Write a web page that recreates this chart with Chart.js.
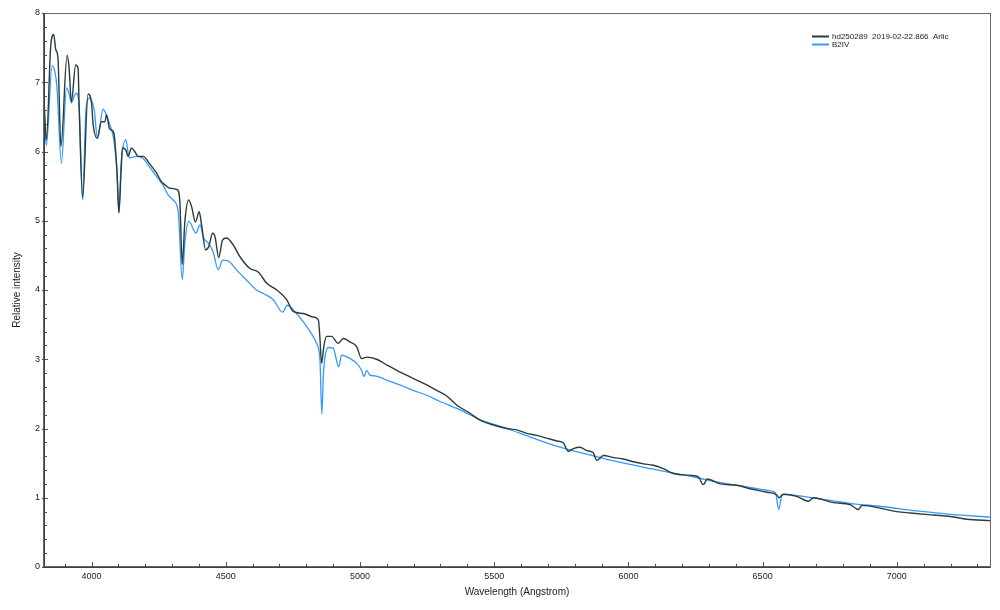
<!DOCTYPE html>
<html>
<head>
<meta charset="utf-8">
<title>hd250289 spectrum</title>
<script src="https://cdn.jsdelivr.net/npm/chart.js@4.4.1/dist/chart.umd.min.js"></script>
<style>
  html, body { margin: 0; padding: 0; background: #fff; }
</style>
</head>
<body>
<canvas id="chart" width="1000" height="610"></canvas>
<script>
/**
 * Series labels.
 */
const seriesLabels = ['hd250289  2019-02-22.866  Arlic', 'B2IV'];

/**
 * Observed spectrum (wavelength in Angstrom / relative intensity).
 */
const obsWave = [
  3823, 3832, 3848, 3859, 3867, 3875, 3886, 3909, 3916, 3925, 3941, 3950, 3954, 3967, 3987,
  4000, 4006, 4021, 4037, 4050, 4056, 4066, 4074, 4083, 4095, 4102, 4110, 4115, 4128, 4136,
  4149, 4161, 4174, 4192, 4217, 4242, 4261, 4267, 4292, 4319, 4329, 4338, 4348, 4362, 4373,
  4387, 4401, 4410, 4425, 4437, 4451, 4460, 4474, 4488, 4503, 4528, 4553, 4590, 4621, 4652,
  4690, 4727, 4751, 4789, 4826, 4845, 4851, 4857, 4866, 4876, 4894, 4919, 4938, 4963, 4988,
  5006, 5025, 5062, 5099, 5137, 5174, 5211, 5249, 5286, 5323, 5360, 5410, 5447, 5497, 5547,
  5584, 5621, 5658, 5696, 5733, 5758, 5776, 5795, 5820, 5845, 5869, 5882, 5907, 5944, 5981,
  6018, 6056, 6093, 6130, 6168, 6205, 6242, 6261, 6279, 6294, 6342, 6404, 6454, 6516, 6553,
  6560, 6578, 6627, 6671, 6689, 6764, 6826, 6857, 6870, 6950, 7000, 7050, 7137, 7199, 7261,
  7348,
];
const obsFlux = [
  6.75, 6.17, 7.52, 7.69, 7.47, 7.35, 6.07, 7.39, 7.23, 6.72, 7.25, 7.20, 6.63, 5.33, 6.83,
  6.70, 6.39, 6.19, 6.43, 6.43, 6.53, 6.34, 6.31, 6.27, 5.70, 5.11, 5.70, 6.05, 6.02, 5.93,
  6.05, 6.00, 5.93, 5.93, 5.82, 5.69, 5.56, 5.54, 5.47, 5.45, 5.28, 4.37, 5.00, 5.30, 5.20,
  4.98, 5.13, 4.94, 4.58, 4.63, 4.82, 4.77, 4.47, 4.72, 4.75, 4.65, 4.48, 4.31, 4.26, 4.10,
  4.00, 3.86, 3.69, 3.66, 3.61, 3.57, 3.30, 2.94, 3.20, 3.33, 3.33, 3.23, 3.30, 3.25, 3.18,
  3.01, 3.03, 3.00, 2.92, 2.84, 2.77, 2.70, 2.63, 2.55, 2.47, 2.34, 2.22, 2.12, 2.05, 2.00,
  1.98, 1.93, 1.90, 1.86, 1.82, 1.79, 1.67, 1.71, 1.73, 1.68, 1.65, 1.54, 1.61, 1.58, 1.56,
  1.52, 1.49, 1.47, 1.42, 1.35, 1.33, 1.32, 1.30, 1.19, 1.27, 1.20, 1.18, 1.13, 1.08, 1.04,
  1.00, 1.05, 1.02, 0.95, 1.00, 0.93, 0.90, 0.83, 0.89, 0.84, 0.80, 0.78, 0.75, 0.73, 0.69,
  0.67,
];

/**
 * Reference B2IV spectrum.
 */
const refWave = [
  3823, 3832, 3853, 3863, 3871, 3888, 3907, 3916, 3925, 3938, 3944, 3954, 3967, 3979, 3991,
  4010, 4022, 4043, 4056, 4068, 4083, 4095, 4102, 4110, 4128, 4140, 4168, 4192, 4217, 4242,
  4267, 4286, 4304, 4323, 4338, 4348, 4363, 4389, 4404, 4418, 4434, 4453, 4472, 4488, 4509,
  4540, 4578, 4615, 4640, 4677, 4712, 4729, 4764, 4783, 4814, 4838, 4851, 4858, 4864, 4870,
  4882, 4900, 4921, 4932, 4963, 4988, 5006, 5015, 5025, 5037, 5056, 5099, 5149, 5199, 5249,
  5298, 5348, 5373, 5447, 5547, 5646, 5745, 5845, 5957, 6081, 6205, 6329, 6453, 6528, 6548,
  6560, 6572, 6578, 6702, 6826, 6950, 7075, 7199, 7348,
];
const refFlux = [
  6.45, 6.09, 7.24, 7.16, 6.94, 5.83, 6.92, 6.84, 6.70, 6.82, 6.84, 6.65, 5.30, 6.58, 6.77,
  6.60, 6.19, 6.61, 6.52, 6.39, 6.17, 5.70, 5.13, 5.80, 6.17, 5.91, 5.93, 5.90, 5.77, 5.64,
  5.51, 5.37, 5.30, 5.13, 4.15, 4.70, 4.99, 4.82, 4.94, 4.75, 4.68, 4.55, 4.29, 4.43, 4.42,
  4.29, 4.14, 4.00, 3.95, 3.86, 3.68, 3.78, 3.66, 3.57, 3.40, 3.23, 2.99, 2.21, 2.80, 3.04,
  3.17, 3.16, 2.89, 3.06, 3.01, 2.94, 2.84, 2.75, 2.84, 2.77, 2.76, 2.70, 2.63, 2.55, 2.48,
  2.39, 2.31, 2.27, 2.13, 2.00, 1.86, 1.73, 1.63, 1.52, 1.42, 1.33, 1.23, 1.15, 1.10, 1.07,
  0.83, 1.04, 1.05, 0.99, 0.92, 0.87, 0.81, 0.76, 0.72,
];

/**
 * Axis ticks.
 */
const xTickValues = [4000, 4500, 5000, 5500, 6000, 6500, 7000];
const yTickValues = [0, 1, 2, 3, 4, 5, 6, 7, 8];
const xRange = [3823, 7347];
const yRange = [0, 8];

const FONT = "'Liberation Sans', Arial, sans-serif";
const COLOR_OBS = '#2b3d3a';
const COLOR_REF = '#3399ff';

const toPoints = (xs, ys) => xs.map((x, i) => ({ x, y: ys[i] }));

/**
 * Inner tick marks (major + minor), plot frame and legend.
 */
const frameTicks = {
  id: 'frameTicks',
  afterDraw(chart) {
    const { ctx, chartArea: a, scales } = chart;
    const xs = scales.x;
    const ys = scales.y;
    ctx.save();
    ctx.strokeStyle = '#555';
    ctx.lineWidth = 1;

    // minor + major ticks on x
    for (let v = Math.ceil(xRange[0] / 100) * 100; v <= xRange[1]; v += 100) {
      const px = Math.round(xs.getPixelForValue(v)) + 0.5;
      const len = v % 500 === 0 ? 5 : 3;
      ctx.beginPath();
      ctx.moveTo(px, a.bottom);
      ctx.lineTo(px, a.bottom - len);
      ctx.stroke();
    }

    // minor + major ticks on y
    for (let i = 0; i <= 40; i += 1) {
      const v = i * 0.2;
      const py = Math.round(ys.getPixelForValue(v)) + 0.5;
      const major = i % 5 === 0;
      ctx.beginPath();
      ctx.moveTo(major ? a.left - 2 : a.left, py);
      ctx.lineTo(a.left + (major ? 4 : 3), py);
      ctx.stroke();
    }

    // frame
    ctx.strokeStyle = '#6a6a6a';
    ctx.strokeRect(Math.round(a.left) + 0.5, Math.round(a.top) + 0.5,
      Math.round(a.right - a.left), Math.round(a.bottom - a.top));
    ctx.strokeStyle = '#333';
    ctx.lineWidth = 1.5;
    ctx.beginPath();
    ctx.moveTo(a.left, a.top);
    ctx.lineTo(a.left, a.bottom);
    ctx.lineTo(a.right, a.bottom);
    ctx.stroke();

    // legend
    const legendRows = [
      { label: seriesLabels[0], color: COLOR_OBS, y: 36.5 },
      { label: seriesLabels[1], color: COLOR_REF, y: 44.5 },
    ];
    ctx.font = `8px ${FONT}`;
    ctx.textBaseline = 'middle';
    ctx.textAlign = 'left';
    legendRows.forEach((row) => {
      ctx.strokeStyle = row.color;
      ctx.lineWidth = 2;
      ctx.beginPath();
      ctx.moveTo(812, row.y);
      ctx.lineTo(829, row.y);
      ctx.stroke();
      ctx.fillStyle = '#222';
      ctx.fillText(row.label, 832, row.y + 0.5);
    });
    ctx.restore();
  },
};

new Chart(document.getElementById('chart'), {
  type: 'line',
  data: {
    datasets: [
      {
        label: seriesLabels[0],
        data: toPoints(obsWave, obsFlux),
        borderColor: COLOR_OBS,
        borderWidth: 1.4,
        pointRadius: 0,
        cubicInterpolationMode: 'monotone',
      },
      {
        label: seriesLabels[1],
        data: toPoints(refWave, refFlux),
        borderColor: COLOR_REF,
        borderWidth: 1.3,
        pointRadius: 0,
        cubicInterpolationMode: 'monotone',
      },
    ],
  },
  options: {
    responsive: false,
    animation: false,
    layout: { padding: { top: 13, right: 10, left: 0, bottom: 0 } },
    plugins: {
      legend: { display: false },
      tooltip: { enabled: false },
    },
    scales: {
      x: {
        type: 'linear',
        min: xRange[0],
        max: xRange[1],
        afterFit: (scale) => { scale.height = 43; },
        afterBuildTicks: (scale) => { scale.ticks = xTickValues.map((value) => ({ value })); },
        grid: { display: false, drawTicks: false },
        border: { display: false },
        ticks: {
          color: '#222',
          font: { family: FONT, size: 9 },
          padding: 4,
          maxRotation: 0,
          callback: (value) => String(value),
        },
        title: {
          display: true,
          text: 'Wavelength (Angstrom)',
          color: '#222',
          font: { family: FONT, size: 10 },
          padding: { top: 0, bottom: 12 },
        },
      },
      y: {
        type: 'linear',
        min: yRange[0],
        max: yRange[1],
        afterFit: (scale) => { scale.width = 44; },
        afterBuildTicks: (scale) => { scale.ticks = yTickValues.map((value) => ({ value })); },
        grid: { display: false, drawTicks: false },
        border: { display: false },
        ticks: {
          color: '#222',
          font: { family: FONT, size: 9 },
          padding: 4,
          callback: (value) => String(value),
        },
        title: {
          display: true,
          text: 'Relative intensity',
          color: '#222',
          font: { family: FONT, size: 10 },
          padding: { top: 11, bottom: 0 },
        },
      },
    },
  },
  plugins: [frameTicks],
});
</script>
</body>
</html>
